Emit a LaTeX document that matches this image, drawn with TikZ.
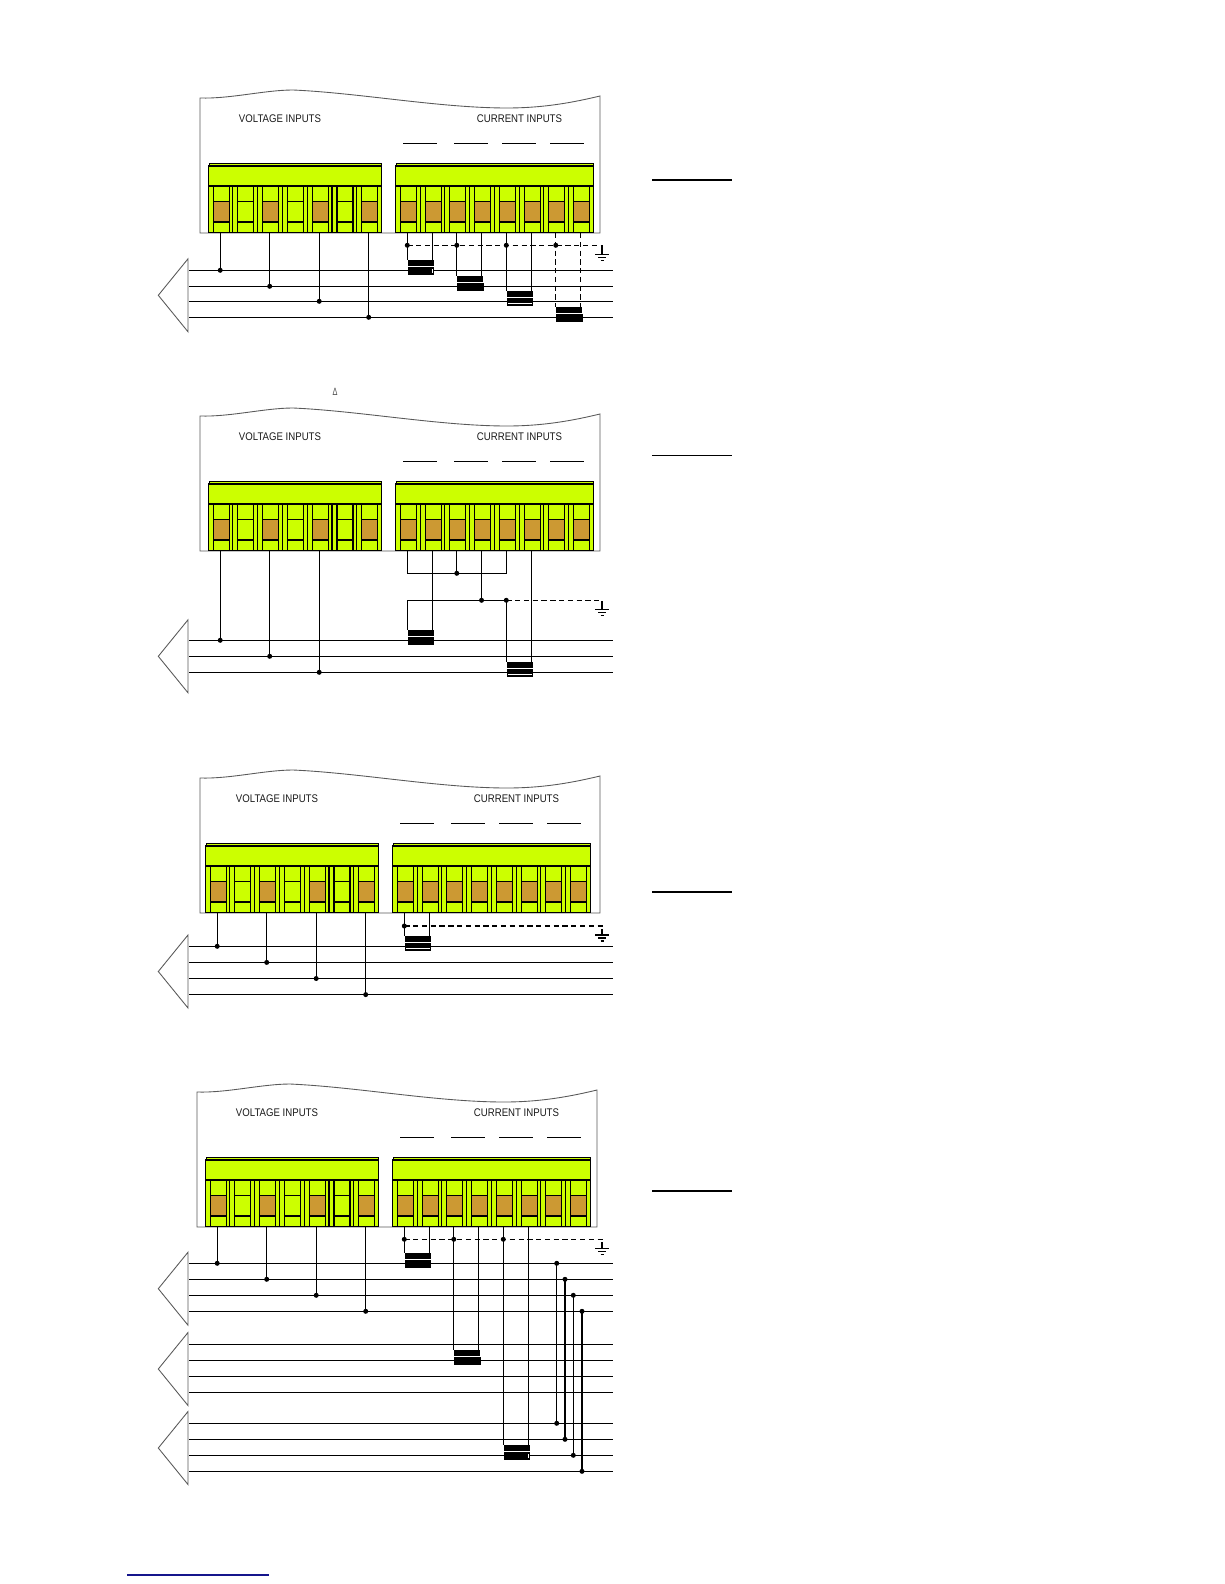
\documentclass[tikz,border=0pt]{standalone}
\usepackage{fontspec}
\setmainfont{Liberation Sans}
\definecolor{lime}{HTML}{CCFF00}
\definecolor{brass}{HTML}{CC9933}
\definecolor{rule}{HTML}{15158C}
\tikzset{
  wire/.style={draw=black,line width=.62pt},
  dashwire/.style={draw=black,line width=.62pt,dash pattern=on 3pt off 2pt},
  bus/.style={draw=black,line width=.62pt},
  outline/.style={draw=black!65,line width=.5pt},
  rating/.style={draw=black,line width=.55pt},
  heavy/.style={draw=black,line width=1.1pt},
  lbl/.style={transform shape,xscale=.87,font=\fontsize{6.3}{7}\selectfont,text=black!90,inner sep=0pt}
}
% way block: name, left edge, ways, step of the brass windows
\newcommand{\termblock}[4]{
  \fill[lime] (#2,186) rectangle (#2+#3*24.75,232.8);
  \foreach \k in {1,#4,...,#3}
  {
    \pgfmathsetmacro{\m}{#2+(\k-1)*24.75}
    \fill[brass] (\m+4.6,201.3) rectangle (\m+20.6,222);
  }
  \foreach \k in {1,...,#3}
  {
    \pgfmathsetmacro{\m}{#2+(\k-1)*24.75}
    \draw[wire] (\m,186)--(\m,232.8);
    \draw[wire] (\m+5,186)--(\m+5,232.8);
    \draw[wire] (\m+21,186)--(\m+21,232.8);
    \draw[wire] (\m+5,201.3)--(\m+21,201.3);
    \draw[wire] (\m+5,222)--(\m+21,222);
    \coordinate (#1\k) at (\m+12,233);
  }
  \draw[wire] (#2+#3*24.75,186)--(#2+#3*24.75,232.8);
  \draw[wire] (#2,232.8)--(#2+#3*24.75,232.8);
  \draw[wire,fill=lime] (#2+1,163.5) rectangle (#2+#3*24.75+.3,166);
  \draw[wire,fill=lime] (#2+.3,166) rectangle (#2+#3*24.75+.3,186);
}
% panel head: name, outline shift, block shift, y shift
\newcommand{\panelhead}[4]{
  \begin{scope}[shift={(#2,#4)}]
    \draw[outline] (200,98) .. controls (230,99) and (265,90) .. (293,90)
      .. controls (360,93) and (440,108) .. (507,108)
      .. controls (545,108) and (575,102) .. (600,96) -- (600,233) -- (200,233) -- cycle;
  \end{scope}
  \begin{scope}[shift={(#3,#4)}]
    \node[lbl] (#1volt) at (280,118.5) {VOLTAGE INPUTS};
    \node[lbl] (#1curr) at (519.5,118.5) {CURRENT INPUTS};
    \draw[rating] (403,143.3)--(437,143.3);
    \draw[rating] (454,143.3)--(488,143.3);
    \draw[rating] (502,143.3)--(536,143.3);
    \draw[rating] (550,143.3)--(584,143.3);
    \termblock{#1v}{208.2}{7}{3}
    \termblock{#1c}{395.3}{8}{2}
  \end{scope}
}
\newcommand{\busset}[2]{
  \foreach \y [count=\i] in {#2}
  {
    \draw[bus] (189,\y) coordinate (#1\i) -- (613,\y);
  }
}
\newcommand{\plugshape}[1]{
  \draw[outline] (188,#1-36.5)--(158.3,#1)--(188,#1+36.5)--cycle;
}
\newcommand{\jdot}[1]{\fill (#1) circle (2.5);}
\newcommand{\tap}[2]{
  \draw[wire] (#1)--(#1 |- #2);
  \jdot{#1 |- #2}
}
% core on a bus: left start, right start, bus, wire style, black of lower bar
\newcommand{\ctbars}[6]{
  \coordinate (ctl) at (#1 |- #3);
  \coordinate (ctr) at (#2 |- #3);
  \draw[#4] (#1)--([shift={(0,-10)}]ctl);
  \draw[#4] (#2)--([shift={(0,-10)}]ctr);
  \fill ([shift={(.5,-10)}]ctl) rectangle ++(26,6);
  \draw[wire,fill=white] ([shift={(.8,-2.3)}]ctl) rectangle ++(25.5,6);
  \fill ([shift={(.5,-2.5)}]ctl) rectangle ++(#5,#6);
}
\newcommand{\earth}[1]{
  \coordinate (#1e) at (#1 -| 602,0);
  \draw[dashwire] (#1)--(#1e)--++(0,3);
  \draw[wire] (#1e)++(0,3)--++(0,6);
  \draw[wire] (#1e)++(-7,9)--++(14,0);
  \draw[wire] (#1e)++(-4,12)--++(8,0);
  \draw[wire] (#1e)++(-1.5,15)--++(3,0);
}
\begin{document}
\begin{tikzpicture}[x=.02cm,y=-.02cm]
  \useasboundingbox (0,0) rectangle (1224,1584);

  \panelhead{a}{0}{0}{0}
  \plugshape{295.3}
  \busset{ab}{270.3,286.3,301.3,317.3}
  \tap{av1}{ab1}
  \tap{av3}{ab2}
  \tap{av5}{ab3}
  \tap{av7}{ab4}
  \coordinate (agnd) at (ac1 |- 0,245.3);
  \earth{agnd}
  \ctbars{ac1}{ac2}{ab1}{wire}{24}{6.3}
  \ctbars{ac3}{ac4}{ab2}{wire}{26}{6.3}
  \ctbars{ac5}{ac6}{ab3}{wire}{26}{4.5}
  \ctbars{ac7}{ac8}{ab4}{dashwire}{26}{6.3}
  \foreach \k in {1,3,5,7}
  {
    \jdot{ac\k |- agnd}
  }
  \draw[heavy] (652,180)--(732,180);

  \node[font=\fontsize{6}{7}\selectfont,text=black!70,xscale=.7,inner sep=0pt] (bdelta) at (335,391.5) {Δ};
  \panelhead{b}{0}{0}{318}
  \plugshape{656.3}
  \busset{bb}{640.3,656.3,672.3}
  \tap{bv1}{bb1}
  \tap{bv3}{bb2}
  \tap{bv5}{bb3}
  \coordinate (bstar) at (bc3 |- 0,573.3);
  \draw[wire] (bc1)|-(bstar);
  \draw[wire] (bc5)|-(bstar);
  \tap{bc3}{bstar}
  \coordinate (bgnd) at (bc5 |- 0,600.3);
  \coordinate (bret) at (bc1 |- bgnd);
  \draw[wire] (bret)--(bgnd);
  \tap{bc4}{bgnd}
  \jdot{bgnd}
  \earth{bgnd}
  \ctbars{bret}{bc2}{bb1}{wire}{26}{6.3}
  \ctbars{bgnd}{bc6}{bb3}{wire}{26}{4.6}
  \draw[heavy] (652,455.5)--(732,455.5);

  \panelhead{c}{0}{-3}{680}
  \plugshape{971.5}
  \busset{cb}{946.3,962.4,978.5,994.6}
  \tap{cv1}{cb1}
  \tap{cv3}{cb2}
  \tap{cv5}{cb3}
  \tap{cv7}{cb4}
  \coordinate (cgnd) at (cc1 |- 0,926);
  \earth{cgnd}
  \ctbars{cc1}{cc2}{cb1}{wire}{26}{4.5}
  \jdot{cgnd}
  \draw[heavy] (652,891.8)--(732,891.8);

  \panelhead{d}{-3}{-3}{994}
  \plugshape{1288.7}
  \plugshape{1369}
  \plugshape{1448}
  \busset{db}{1263.3,1279.3,1295.3,1311.3}
  \busset{de}{1344.3,1360.3,1376.3,1392.3}
  \busset{df}{1423.3,1439.3,1455.3,1471.3}
  \tap{dv1}{db1}
  \tap{dv3}{db2}
  \tap{dv5}{db3}
  \tap{dv7}{db4}
  \coordinate (dgnd) at (dc1 |- 0,1239.3);
  \earth{dgnd}
  \ctbars{dc1}{dc2}{db1}{wire}{26}{6.3}
  \ctbars{dc3}{dc4}{de2}{wire}{26}{6.3}
  \ctbars{dc5}{dc6}{df3}{wire}{24}{6}
  \foreach \k in {1,3,5}
  {
    \jdot{dc\k |- dgnd}
  }
  \foreach \x [count=\i] in {556.7,565,573.3,582}
  {
    \coordinate (dtie\i) at (\x,0 |- db\i);
    \tap{dtie\i}{df\i}
    \jdot{dtie\i}
  }
  \draw[heavy] (652,1190.7)--(732,1190.7);

  \draw[rule,line width=.6pt] (127,1575)--(269,1575);
\end{tikzpicture}
\end{document}
